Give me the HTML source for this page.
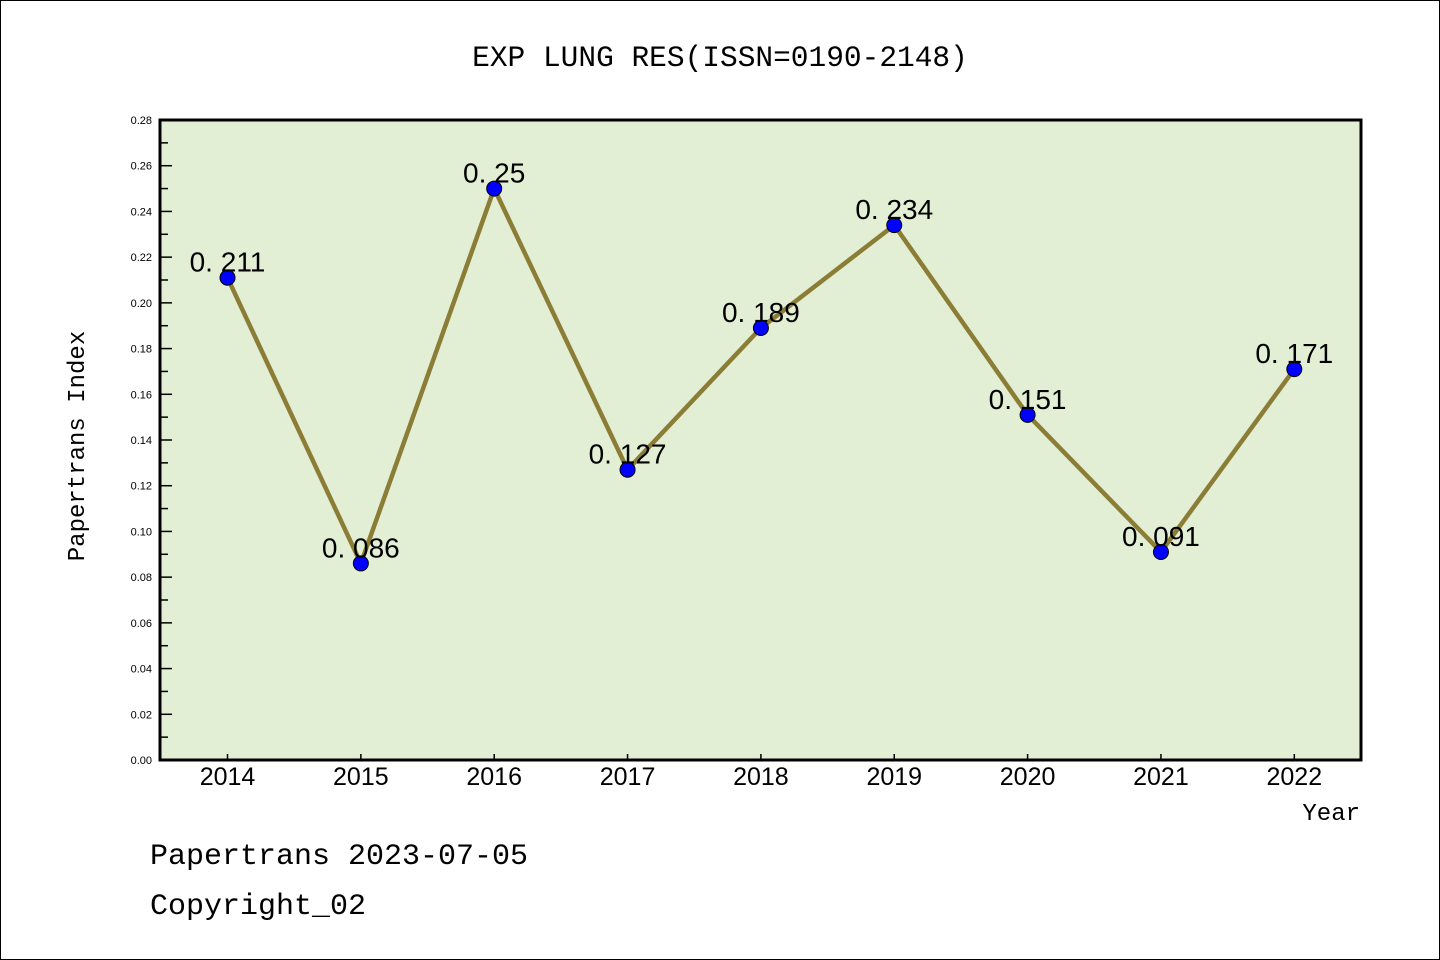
<!DOCTYPE html>
<html><head><meta charset="utf-8"><style>
html,body{margin:0;padding:0;background:#fff}
svg{display:block}
.mono{font-family:"Liberation Mono","DejaVu Sans Mono",monospace}
.sans{font-family:"Liberation Sans",sans-serif}
</style></head><body>
<svg id="chart" width="1440" height="960" viewBox="0 0 1440 960">
<rect x="0.5" y="0.5" width="1439" height="959" fill="#fff" stroke="#000"/>
<text class="mono" x="720" y="66" text-anchor="middle" font-size="29.5">EXP LUNG RES(ISSN=0190-2148)</text>
<rect x="160" y="120" width="1201" height="640" fill="#e2efd5"/>
<g id="yaxis"></g>
<g id="xaxis"></g>
<g id="series"></g>
<rect x="160" y="120" width="1201" height="640" fill="none" stroke="#000" stroke-width="3"/>
<text class="mono" x="84" y="446" text-anchor="middle" font-size="24" transform="rotate(-90 84 446)">Papertrans Index</text>
<text class="mono" x="1360" y="820" text-anchor="end" font-size="24">Year</text>
<text class="mono" x="150" y="864" font-size="30">Papertrans 2023-07-05</text>
<text class="mono" x="150" y="914" font-size="30">Copyright_02</text>
</svg>
<script>
const years = ["2014","2015","2016","2017","2018","2019","2020","2021","2022"];
const values = [0.211,0.086,0.25,0.127,0.189,0.234,0.151,0.091,0.171];
const valueLabels = ["0.211","0.086","0.25","0.127","0.189","0.234","0.151","0.091","0.171"];
const yTicks = ["0.00","0.02","0.04","0.06","0.08","0.10","0.12","0.14","0.16","0.18","0.20","0.22","0.24","0.26","0.28"];
const yMax = 0.28;
const NS = "http://www.w3.org/2000/svg";
function yS(v){return 760 - v/yMax*640;}
function xS(i){return 227.5 + i*133.35;}
function mk(tag, attrs, parent){const e=document.createElementNS(NS,tag);for(const k in attrs)e.setAttribute(k,attrs[k]);parent.appendChild(e);return e;}
const ya=document.getElementById('yaxis'), xa=document.getElementById('xaxis'), sr=document.getElementById('series');
yTicks.forEach((t,i)=>{
  const v=parseFloat(t), y=yS(v);
  const l=mk('line',{x1:160,x2:172,y1:y,y2:y,stroke:'#000','stroke-width':1.5},ya);
  
  
  const tx=mk('text',{x:152,y:y+4,'text-anchor':'end','font-size':11,'class':'sans'},ya);
  tx.textContent=t;
  
  
  if(i<yTicks.length-1){
    const ym=yS(v+0.01);
    const m=mk('line',{x1:160,x2:168,y1:ym,y2:ym,stroke:'#000','stroke-width':1.5},ya);
    
    
  }
});
years.forEach((yr,i)=>{
  const x=xS(i);
  const l=mk('line',{x1:x,x2:x,y1:760,y2:754,stroke:'#000','stroke-width':1.5},xa);
  
  
  const tx=mk('text',{x:x,y:785,'text-anchor':'middle','font-size':25,'class':'sans'},xa);
  tx.textContent=yr;
  
  
});
const pts=values.map((v,i)=>xS(i)+','+yS(v)).join(' ');
const pl=mk('polyline',{points:pts,fill:'none',stroke:'#8b7d35','stroke-width':4.5,'stroke-linejoin':'round'},sr);


values.forEach((v,i)=>{
  const c=mk('circle',{cx:xS(i),cy:yS(v),r:7.5,fill:'#0000ff',stroke:'#000','stroke-width':1},sr);
  
  
  const t=mk('text',{x:xS(i),y:yS(v)-6,'text-anchor':'middle','font-size':28,'class':'sans'},sr);
  t.textContent=valueLabels[i].replace('.','. ');
  
  
});
</script>
</body></html>
